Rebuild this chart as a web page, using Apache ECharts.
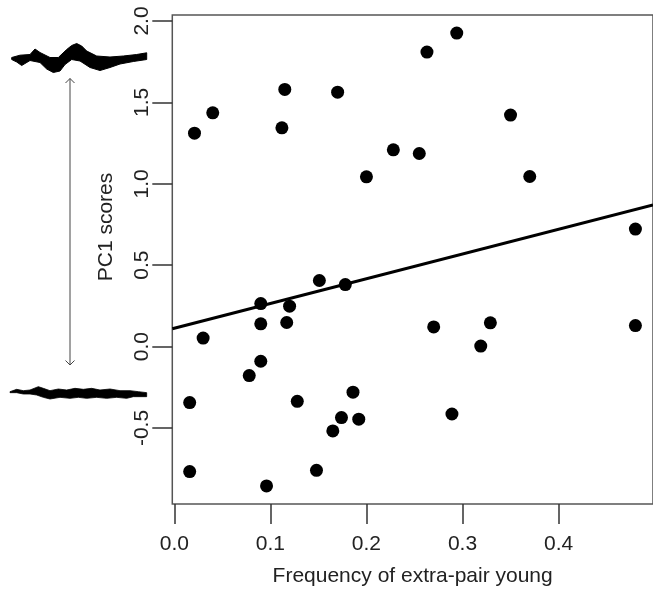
<!DOCTYPE html>
<html>
<head>
<meta charset="utf-8">
<script src="https://cdn.jsdelivr.net/npm/echarts@6/dist/echarts.min.js"></script>
<style>
html,body{margin:0;padding:0;background:#fff;}
#chart{width:653px;height:592px;}
</style>
</head>
<body>
<div id="chart"></div>
<script>
// Frequency of extra-pair young (x) vs PC1 scores (y)
const epyFreq = [0.021,0.040,0.115,0.112,0.170,0.200,0.228,0.294,0.263,0.350,0.255,0.370,0.480,
  0.030,0.090,0.120,0.151,0.178,0.090,0.117,0.090,0.078,0.016,0.128,0.186,0.174,0.192,0.165,0.016,0.148,0.096,
  0.270,0.329,0.319,0.289,0.480];
const pc1Scores = [1.311,1.436,1.580,1.344,1.563,1.043,1.209,1.926,1.809,1.422,1.186,1.045,0.722,
  0.052,0.264,0.248,0.406,0.381,0.140,0.148,-0.090,-0.178,-0.344,-0.336,-0.280,-0.436,-0.446,-0.518,-0.768,-0.760,-0.856,
  0.121,0.146,0.003,-0.414,0.129];
// fitted regression line end points
const fitX = [-0.0021, 0.4983];
const fitY = [0.110, 0.870];
// tick values
const xTicks = [0, 0.1, 0.2, 0.3, 0.4];
const yTicks = [-0.5, 0, 0.5, 1.0, 1.5, 2.0];

const FONT = '"Liberation Sans", Arial, sans-serif';

// decorative waveform outlines (upper and lower)
const waveTop = [[11.7,57.5],[20,55.2],[30,54.5],[35,49],[40,52.5],[50,57.5],[58.3,57.5],[66.7,49.5],[71.7,45.5],[76.7,43.5],[81.7,46],[86.7,51],[96.7,56],[110,57],[123.3,56],[136.7,54.5],[146.7,52.8],
  [146.7,59.5],[133.3,61.5],[120,64],[110,67.5],[100,70.5],[90,67.5],[80,61],[71.7,59.5],[65,64.5],[60,71],[53.3,72.5],[46.7,69],[40,62.5],[30,60.5],[21.7,65.5],[16.7,62],[11.7,59.5]];
const waveBotRaw = [[30,65],[50,58],[70,62],[90,60],[115,50],[130,55],[150,62],[175,57],[200,60],[225,55],[250,58],[275,55],[300,60],[330,57],[360,62],[390,62],[415,65],[440,68],
  [440,80],[400,80],[380,85],[350,82],[320,85],[290,82],[260,85],[235,82],[210,85],[180,82],[150,87],[130,82],[110,75],[90,72],[70,72],[50,68],[30,68]];
const waveBot = waveBotRaw.map(p => [p[0]/3, 370 + p[1]/3]);

const chart = echarts.init(document.getElementById('chart'), null, {renderer: 'canvas'});
const option = {
  backgroundColor: '#ffffff',
  animation: false,
  grid: {
    left: 172.3, top: 15, width: 487.7, height: 489.3,
    show: true, borderColor: '#555', borderWidth: 1.5, backgroundColor: 'transparent'
  },
  xAxis: {
    type: 'value', min: -0.0021, max: 0.4983,
    name: 'Frequency of extra-pair young', nameLocation: 'middle', nameGap: 62,
    nameTextStyle: {fontFamily: FONT, fontSize: 21, color: '#222', lineHeight: 21},
    axisLine: {show: false, onZero: false},
    axisTick: {show: true, length: 20, inside: false, customValues: xTicks, lineStyle: {color: '#333', width: 1.5}},
    axisLabel: {show: true, customValues: xTicks, margin: 30, fontFamily: FONT, fontSize: 21, color: '#222', lineHeight: 21,
      formatter: v => v.toFixed(1)},
    splitLine: {show: false}
  },
  yAxis: {
    type: 'value', min: -0.967, max: 2.037,
    axisLine: {show: false, onZero: false},
    axisTick: {show: true, length: 20, inside: false, customValues: yTicks, lineStyle: {color: '#333', width: 1.5}},
    axisLabel: {show: true, customValues: yTicks, rotate: 90, margin: 20, fontFamily: FONT, fontSize: 21, color: '#222', lineHeight: 21,
      formatter: v => v.toFixed(1)},
    splitLine: {show: false}
  },
  series: [
    {
      type: 'scatter', symbol: 'circle', symbolSize: 13,
      itemStyle: {color: '#000', opacity: 1},
      emphasis: {disabled: true},
      data: epyFreq.map((x, i) => [x, pc1Scores[i]]),
      z: 3
    },
    {
      type: 'line', symbol: 'none', clip: true,
      lineStyle: {color: '#000', width: 3},
      data: fitX.map((x, i) => [x, fitY[i]]),
      z: 2
    }
  ],
  graphic: [
    {type: 'text', x: 106, y: 227, rotation: Math.PI / 2,
      style: {text: 'PC1 scores', font: '21px ' + FONT, fill: '#222', align: 'center', verticalAlign: 'middle'}},
    {type: 'polygon', shape: {points: waveTop}, style: {fill: '#000', stroke: '#000', lineWidth: 1}},
    {type: 'polygon', shape: {points: waveBot}, style: {fill: '#000', stroke: '#000', lineWidth: 0.8}},
    {type: 'line', shape: {x1: 70, y1: 78.5, x2: 70, y2: 365}, style: {stroke: '#444', lineWidth: 1}},
    {type: 'polyline', shape: {points: [[65.5, 83], [70, 78.5], [74.5, 83]]}, style: {stroke: '#444', lineWidth: 1, fill: null}},
    {type: 'polyline', shape: {points: [[65.5, 360.5], [70, 365], [74.5, 360.5]]}, style: {stroke: '#444', lineWidth: 1, fill: null}}
  ]
};
chart.setOption(option);
</script>
</body>
</html>
